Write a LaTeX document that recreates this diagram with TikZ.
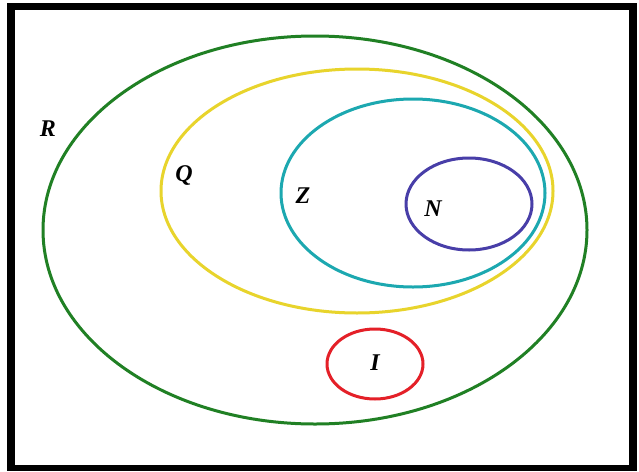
\documentclass[tikz,border=0pt]{standalone}
\usepackage{fontspec}
\setmainfont{Liberation Serif}
\definecolor{cR}{RGB}{32,128,36}
\definecolor{cQ}{RGB}{232,212,44}
\definecolor{cZ}{RGB}{28,168,176}
\definecolor{cN}{RGB}{72,62,168}
\definecolor{cI}{RGB}{228,32,40}
\begin{document}
\begin{tikzpicture}[x=1pt,y=-1pt,
  setline/.style={line width=3pt},
  lab/.style={font=\fontsize{24}{24}\selectfont\bfseries\itshape, inner sep=0pt}]
\useasboundingbox (0,0) rectangle (639,471);
\fill[white] (0,0) rectangle (639,471);
% frame
\fill[black] (7,3) rectangle (637,10);
\fill[black] (7,3) rectangle (15,471);
\fill[black] (7,465) rectangle (637,471);
\fill[black] (629,3) rectangle (637,471);
% sets
\draw[setline, cR] (315,230) ellipse [x radius=272, y radius=194];
\draw[setline, cQ] (357,191) ellipse [x radius=196, y radius=122];
\draw[setline, cZ] (413,193) ellipse [x radius=132, y radius=94];
\draw[setline, cN] (469,204) ellipse [x radius=63, y radius=46];
\draw[setline, cI] (375,364) ellipse [x radius=48, y radius=35];
% labels
\node[lab] (R) at (48,129) {R};
\node[lab] (Q) at (184,175) {Q};
\node[lab] (Z) at (303,196) {Z};
\node[lab] (N) at (433,209) {N};
\node[lab] (I) at (375,363) {I};
\end{tikzpicture}
\end{document}
